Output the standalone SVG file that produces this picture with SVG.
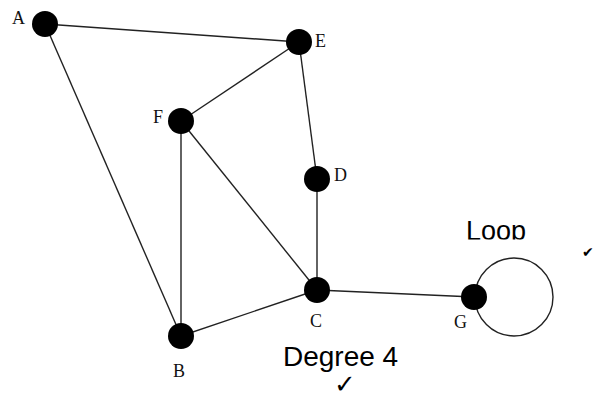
<svg xmlns="http://www.w3.org/2000/svg" width="595" height="396" viewBox="0 0 595 396">
<defs>
<style>
.e{stroke:#222;stroke-width:1.4;fill:none}
.n{fill:#000}
.l{font-family:"Liberation Serif",serif;font-size:18px;fill:#111}
.t{font-family:"Liberation Sans",Arial,sans-serif;fill:#000}
.c{font-family:"DejaVu Sans",sans-serif;fill:#000}
</style>
<clipPath id="clipLoop"><rect x="440" y="200" width="120" height="39.5"/></clipPath>
</defs>
<rect width="595" height="396" fill="#fff"/>
<g id="connectors">
<line class="e" x1="45" y1="24" x2="299" y2="42"/>
<line class="e" x1="45" y1="24" x2="181" y2="336"/>
<line class="e" x1="299" y1="42" x2="181" y2="121"/>
<line class="e" x1="299" y1="42" x2="317" y2="179"/>
<line class="e" x1="181" y1="121" x2="181" y2="336"/>
<line class="e" x1="181" y1="121" x2="317" y2="290"/>
<line class="e" x1="317" y1="179" x2="317" y2="290"/>
<line class="e" x1="181" y1="336" x2="317" y2="290"/>
<line class="e" x1="317" y1="290" x2="474" y2="297"/>
<circle class="e" cx="514" cy="297" r="39"/>
</g>
<g id="A"><circle class="n" cx="45" cy="24" r="13"/><text class="l" x="12" y="24">A</text></g>
<g id="E"><circle class="n" cx="299" cy="42" r="13"/><text class="l" x="315" y="47">E</text></g>
<g id="F"><circle class="n" cx="181" cy="121" r="13"/><text class="l" x="153" y="123">F</text></g>
<g id="D"><circle class="n" cx="317" cy="179" r="13"/><text class="l" x="334" y="181">D</text></g>
<g id="C"><circle class="n" cx="317" cy="290" r="13"/><text class="l" x="310" y="327">C</text></g>
<g id="G"><circle class="n" cx="474" cy="297" r="13"/><text class="l" x="454" y="328">G</text></g>
<g id="B"><circle class="n" cx="181" cy="336" r="13"/><text class="l" x="173" y="377">B</text></g>
<g id="labels">
<text class="t" x="466" y="239.5" font-size="27" clip-path="url(#clipLoop)">Loop</text>
<text class="c" x="582" y="257" font-size="14">✔</text>
<text class="t" x="283" y="366" font-size="28">Degree 4</text>
<text class="c" x="334" y="393" font-size="26">✓</text>
</g>
</svg>
